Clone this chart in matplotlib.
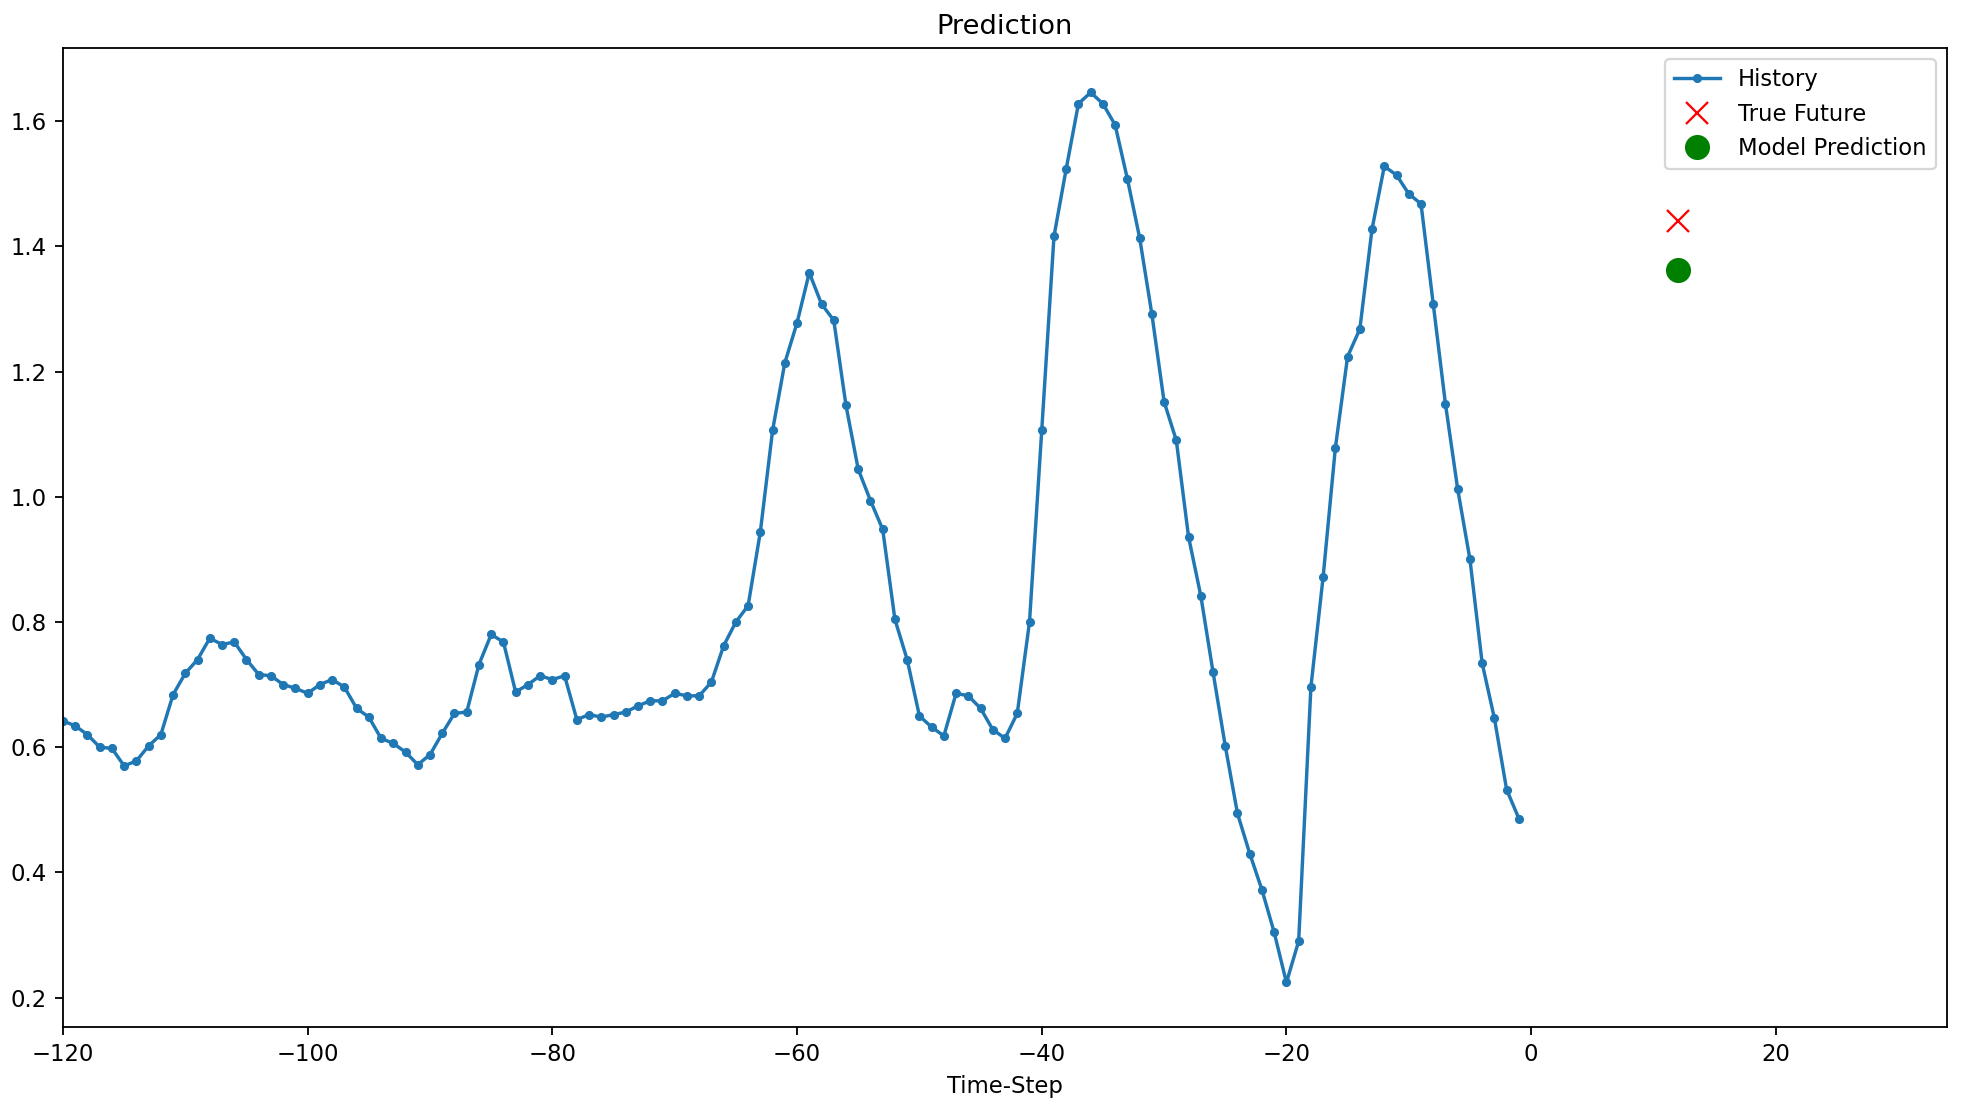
import numpy as np
import matplotlib
matplotlib.use("Agg")
import matplotlib.pyplot as plt

# history values, time steps -120 .. -1
history = [
    0.642, 0.634, 0.620, 0.600, 0.598, 0.570, 0.578, 0.602, 0.620, 0.684,
    0.718, 0.740, 0.774, 0.764, 0.768, 0.740, 0.716, 0.714, 0.700, 0.694,
    0.686, 0.700, 0.708, 0.696, 0.662, 0.648, 0.614, 0.606, 0.592, 0.572,
    0.588, 0.622, 0.654, 0.656, 0.732, 0.780, 0.768, 0.688, 0.700, 0.714,
    0.708, 0.714, 0.644, 0.652, 0.648, 0.652, 0.656, 0.666, 0.674, 0.674,
    0.686, 0.682, 0.682, 0.704, 0.762, 0.800, 0.826, 0.944, 1.106, 1.214,
    1.278, 1.358, 1.308, 1.282, 1.146, 1.044, 0.994, 0.948, 0.804, 0.740,
    0.650, 0.632, 0.618, 0.686, 0.682, 0.662, 0.628, 0.614, 0.654, 0.800,
    1.106, 1.416, 1.524, 1.628, 1.646, 1.628, 1.594, 1.508, 1.414, 1.292,
    1.152, 1.090, 0.936, 0.842, 0.720, 0.602, 0.494, 0.430, 0.372, 0.304,
    0.224, 0.290, 0.696, 0.872, 1.078, 1.224, 1.268, 1.428, 1.528, 1.514,
    1.484, 1.468, 1.308, 1.148, 1.012, 0.900, 0.734, 0.646, 0.532, 0.486,
]
time_steps = list(range(-len(history), 0))
future = 12
true_future = 1.44
prediction = 1.362

dpi = 164
fig = plt.figure(figsize=(1962 / dpi, 1105 / dpi), dpi=dpi)
ax = fig.add_axes([0.0321, 0.0706, 0.9603, 0.886])

ax.plot(time_steps, history, '.-', label='History')
ax.plot(future, true_future, 'rx', markersize=10, label='True Future')
ax.plot(future, prediction, 'go', markersize=10, label='Model Prediction')
ax.legend()
ax.set_xlim([time_steps[0], (future + 5) * 2])
ax.set_xlabel('Time-Step')
ax.set_title('Prediction')

fig.savefig('out.png', dpi=dpi)
